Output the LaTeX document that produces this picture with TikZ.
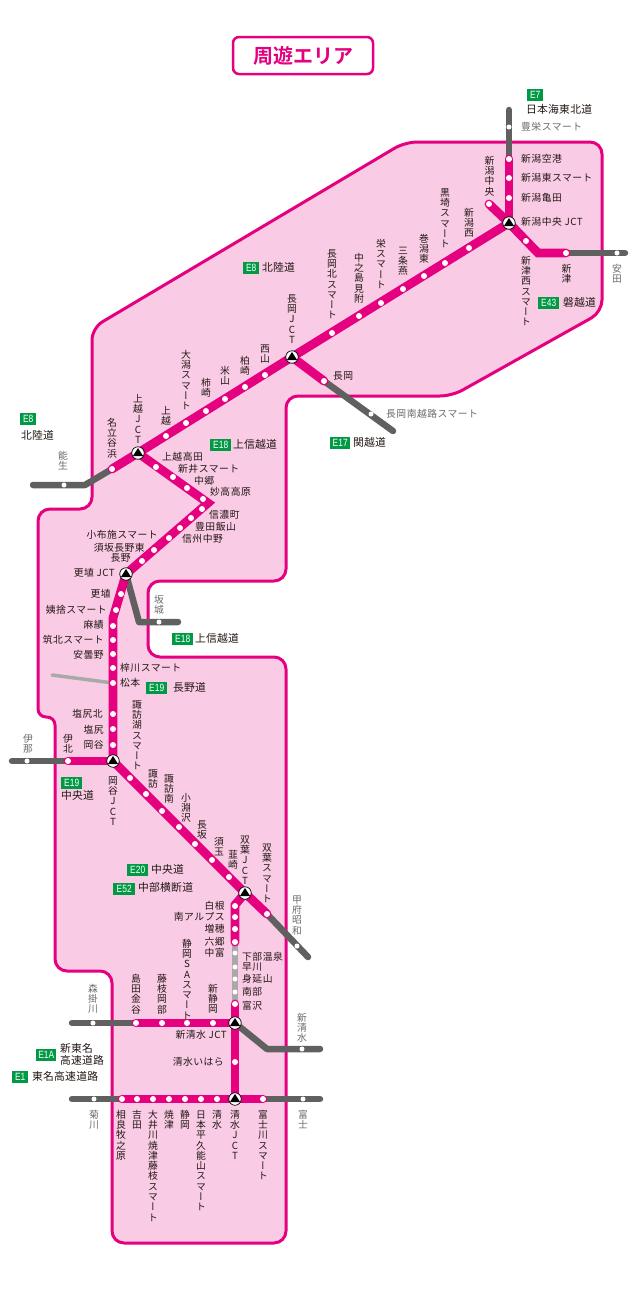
\documentclass[tikz,border=0pt]{standalone}
\usepackage{fontspec}
\setmainfont{Liberation Sans}
\newfontfamily\badgefont[FakeStretch=0.8]{Liberation Sans}
\newfontfamily\jpfont[LetterSpace=5]{Noto Sans CJK JP}
\newfontfamily\jpbig[LetterSpace=2]{Noto Sans CJK JP}
\newfontfamily\jptitle[BoldFont={Noto Sans CJK JP Bold}]{Noto Sans CJK JP}
\newfontfamily\jpvert[RawFeature=+vert]{Noto Sans CJK JP}
\definecolor{mag}{HTML}{E4007F}
\definecolor{pinkfill}{HTML}{F9CBE4}
\definecolor{road}{HTML}{606060}
\definecolor{lgray}{HTML}{A9A9A9}
\definecolor{grn}{HTML}{009944}
\definecolor{ink}{HTML}{231815}
\definecolor{gtext}{HTML}{6A6A6A}
\pgfdeclarelayer{region}
\pgfdeclarelayer{roads}
\pgfsetlayers{region,roads,main}
\makeatletter
\newcommand\vstack[1]{\vbox{\offinterlineskip\fontsize{9.8}{10}\jpvert\@tfor\vch:=#1\do{\hbox to 12pt{\vrule height 8.9pt depth 1.4pt width 0pt\hss\vch\hss}}}}
\makeatother
\newcounter{lab}
\newcommand\LW[4][ink]{\stepcounter{lab}\node[lb,text=#1,anchor=west] (t\thelab) at (#2,#3) {\fontsize{9.8}{10}\jpfont #4};}
\newcommand\LR[4][ink]{\stepcounter{lab}\node[lb,text=#1,anchor=east] (t\thelab) at (#2,#3) {\fontsize{9.8}{10}\jpfont #4};}
\newcommand\LV[4][ink]{\stepcounter{lab}\node[text=#1,inner sep=0pt,anchor=north] (t\thelab) at (#2,#3) {\vstack{#4}};}
\newcommand\RD[3]{\stepcounter{lab}\node[lb,text=ink,anchor=west] (t\thelab) at (#1,#2) {\fontsize{10.8}{12}\jpbig #3};}
\newcommand\BG[4]{\stepcounter{lab}\node[badge,minimum width=#3 pt,anchor=north west] (t\thelab) at (#1,#2) {#4};}
\tikzset{
 lb/.style={inner sep=0pt,text height=8.8pt,text depth=1.2pt},
 badge/.style={fill=grn,text=white,inner sep=0pt,minimum height=12pt,font=\fontsize{10.5}{11}\badgefont},
 st/.style={circle,fill=white,inner sep=0pt,minimum size=6pt},
 stg/.style={circle,fill=white,inner sep=0pt,minimum size=5pt},
 jct/.style={circle,fill=white,draw=black,line width=0.7pt,inner sep=0pt,minimum size=12.5pt,
   path picture={\fill[black] ([yshift=5pt]path picture bounding box.center) -- ([xshift=5.2pt,yshift=-3.2pt]path picture bounding box.center) -- ([xshift=-5.2pt,yshift=-3.2pt]path picture bounding box.center) -- cycle;}},
 mroad/.style={draw=mag,line width=8.8pt,line cap=round,line join=miter},
 groad/.style={draw=road,line width=6.5pt,line cap=round,line join=round},
 lroad/.style={draw=lgray,line width=5.5pt,line cap=butt},
 area/.style={fill=pinkfill,draw=mag,line width=3pt,rounded corners=12pt,line join=round},
}
\begin{document}
\begin{tikzpicture}[x=1pt,y=-1pt]
\useasboundingbox (0,0) rectangle (640,1296);

% title
\node[draw=mag,fill=white,line width=2.5pt,rounded corners=6pt,minimum width=140pt,minimum height=37pt,inner sep=0pt,text=mag] (title) at (303,55.5) {\fontsize{20}{22}\jptitle\bfseries 周遊エリア};

% region
\begin{pgfonlayer}{region}
\path[area] (602,142) -- (602,312) -- (452,396) -- (286,396) -- (286,581) -- (148,581) -- (148,657) -- (286,657) -- (286,1243) -- (112,1243) -- (112,971) -- (55,971) [rounded corners=8pt] -- (55,717) -- (38,717) [rounded corners=12pt] -- (38,509) -- (92,509) -- (92,328) -- (405,142) -- cycle;
\end{pgfonlayer}

% junctions
\foreach \n/\x/\y in {jNiigata/509/223,jNagaoka/292/357,jJoetsu/138/453,jKoshoku/126/574,jOkaya/113/761,jFutaba/245/893,jShinshimizu/235/1023,jShimizu/235/1099}
  \node[jct] (\n) at (\x,\y) {};

% bends and free ends
\foreach \n/\x/\y in {bTsu/538/253,bNou/85/485,bJyo/208/503,bAzu/113/618,bSaka/139/622,bHaku/235/905,bSsz/267/1049,
  eNorth/509/110,eYasu/625/253,eNagaS/393/431,eNou/33/485,eSaka/178/622,eIna/12/761,eKofu/308/957,eMori/72/1023,eSsz/320/1049,eKiku/72/1099,eFuji/320/1099,eMatsu/52/675}
  \coordinate (\n) at (\x,\y);

% stations on magenta
\foreach \n/\x/\y in {
 a1/509/159,a2/509/178,a3/509/198,a4/489/204,a5/526/241,a6/566/253,
 b1/469/248,b2/445/263,b3/424/276,b4/403/289,b5/381/303,b6/359/316,b7/332/333,
 b8/265/375,b9/245/387,b10/225/399,b11/206/411,b12/186/423,b13/166/436,b14/112/469,
 c0/324/381,
 c1/156/467,c2/173/477,c3/187/488,c4/203/499,c5/202/509,c6/191/518,c7/180/528,c8/169/538,c9/154/550,c10/142/561,
 d1/121/594,d2/116/610,d3/113/626,d4/113/640,d5/113/654,d6/113/668,d7/113/683,d8/113/714,d9/113/729,d10/113/745,
 d11/68/761,
 f1/130/778,f2/146/794,f3/162/811,f4/179/827,f5/195/844,f6/212/860,f7/229/877,f8/267/914,
 g1/235/906,g2/235/917,g3/235/929,g4/235/942,g9/235/1004,
 h1/213/1023,h2/187/1023,h3/162/1023,h4/136/1023,h5/235/1062,
 i1/122/1099,i2/137/1099,i3/153/1099,i4/169/1099,i5/185/1099,i6/201/1099,i7/217/1099,i8/263/1099}
  \node[st] (\n) at (\x,\y) {};

% stations on grey
\foreach \n/\x/\y in {
 k1/509/127,k2/617/253,k3/371/414,k4/64/485,k5/159/622,k6/27/761,k7/297/946,
 g5/235/953,g6/235/967,g7/235/979,g8/235/992,k8/93/1023,k9/302/1049,k10/94/1099,k11/303/1099}
  \node[stg] (\n) at (\x,\y) {};

% roads
\begin{pgfonlayer}{roads}
\draw[groad] (eNorth) -- (a1.center);
\draw[groad] (a6.center) -- (eYasu);
\draw[groad] (c0.center) -- (eNagaS);
\draw[groad] (b14.center) -- (bNou) -- (eNou);
\draw[groad] (jKoshoku.center) -- (bSaka) -- (eSaka);
\draw[groad] (d11.center) -- (eIna);
\draw[groad] (f8.center) -- (eKofu);
\draw[groad] (h4.center) -- (eMori);
\draw[groad] (jShinshimizu.center) -- (bSsz) -- (eSsz);
\draw[groad] (i1.center) -- (eKiku);
\draw[groad] (i8.center) -- (eFuji);
\draw[lroad] (g4.center) -- (g9.center);
\draw[draw=lgray,line width=3.5pt,line cap=round] (d7.center) -- (eMatsu);
\draw[mroad] (a1.center) -- (jNiigata.center);
\draw[mroad] (a4.center) -- (jNiigata.center);
\draw[mroad] (jNiigata.center) -- (bTsu) -- (a6.center);
\draw[mroad] (jNiigata.center) -- (jNagaoka.center) -- (jJoetsu.center) -- (b14.center);
\draw[mroad] (jNagaoka.center) -- (c0.center);
\draw[mroad] (jJoetsu.center) -- (bJyo) -- (jKoshoku.center) -- (bAzu) -- (jOkaya.center);
\draw[mroad] (jOkaya.center) -- (d11.center);
\draw[mroad] (jOkaya.center) -- (jFutaba.center) -- (f8.center);
\draw[mroad] (jFutaba.center) -- (bHaku) -- (g4.center);
\draw[mroad] (g9.center) -- (jShinshimizu.center) -- (jShimizu.center);
\draw[mroad] (h4.center) -- (jShinshimizu.center);
\draw[mroad] (i1.center) -- (i8.center);
\end{pgfonlayer}

% Niigata area
\BG{527}{89}{16}{E7}
\RD{526}{110}{日本海東北道}
\LW[gtext]{521}{127}{豊栄スマート}
\LW{521}{159}{新潟空港}
\LW{521}{178}{新潟東スマート}
\LW{521}{198}{新潟亀田}
\LW{521}{222}{新潟中央 JCT}
\LV{489.5}{155}{新潟中央}
\LV{445}{187}{黒埼スマート}
\LV{469}{207}{新潟西}
\LV{424}{233}{巻潟東}
\LV{403}{245}{三条燕}
\LV{381}{238}{栄スマート}
\LV{359}{252}{中之島見附}
\LV{332}{248}{長岡北スマート}
\LV{292}{293}{長岡{J}{C}{T}}
\LV{265}{343}{西山}
\LV{245}{355}{柏崎}
\LV{225}{365}{米山}
\LV{206}{377}{柿崎}
\LV{186}{349}{大潟スマート}
\LV{166}{405}{上越}
\LV{138}{393}{上越{J}{C}{T}}
\LV{112}{417}{名立谷浜}
\LV[gtext]{63}{450}{能生}
\LV{526}{255}{新津西スマート}
\LV{566.5}{263}{新津}
\LV[gtext]{617}{263}{安田}
\BG{538}{297}{21}{E43}
\RD{563}{303}{磐越道}
\BG{243}{262}{16}{E8}
\RD{262}{268}{北陸道}
\BG{20}{413}{16}{E8}
\RD{21}{436}{北陸道}
\BG{210}{439}{21}{E18}
\RD{233}{445}{上信越道}
\LW{333}{376}{長岡}
\LW[gtext]{386}{414}{長岡南越路スマート}
\BG{330}{437}{20}{E17}
\RD{353}{443}{関越道}

% Joshinetsu
\LW{162}{457}{上越高田}
\LW{178}{469}{新井スマート}
\LW{194}{481}{中郷}
\LW{210}{492}{妙高高原}
\LW{209}{515}{信濃町}
\LW{195}{527}{豊田飯山}
\LW{182}{539}{信州中野}
\LR{158}{535}{小布施スマート}
\LR{145}{548}{須坂長野東}
\LR{131}{558}{長野}
\LR{115}{573}{更埴 JCT}
\LR{111}{594}{更埴}
\LR{107}{610}{姨捨スマート}
\LR{104}{625}{麻績}
\LR{104}{640}{筑北スマート}
\LR{104}{655}{安曇野}
\LW{120}{668}{梓川スマート}
\LW{120}{683}{松本}
\LR{103}{714}{塩尻北}
\LR{104}{730}{塩尻}
\LR{104}{745}{岡谷}
\LV[gtext]{159}{594}{坂城}
\BG{172}{633}{21}{E18}
\RD{195}{639}{上信越道}
\BG{146}{682}{21}{E19}
\RD{173}{688}{長野道}
\LV{137}{699}{諏訪湖スマート}
\LV[gtext]{28}{733}{伊那}
\LV{68}{733}{伊北}
\BG{61}{777}{21}{E19}
\RD{61}{796}{中央道}

% Chuo
\LV{113}{775}{岡谷{J}{C}{T}}
\LV{153}{768}{諏訪}
\LV{169}{773}{諏訪南}
\LV{186}{792}{小淵沢}
\LV{202}{819}{長坂}
\LV{219}{836}{須玉}
\LV{233}{849}{韮崎}
\LV{245}{834}{双葉{J}{C}{T}}
\LV{267}{842}{双葉スマート}
\LV[gtext]{297}{894}{甲府昭和}
\BG{127}{864}{21}{E20}
\RD{151}{870}{中央道}
\BG{113}{883}{22}{E52}
\RD{138}{888}{中部横断道}
\LR{225}{906}{白根}
\LR{225}{917}{南アルプス}
\LR{225}{929}{増穂}
\LR{225}{942}{六郷}
\LR{225}{953}{中富}
\LW{242}{957}{下部温泉}
\LW{242}{967}{早川}
\LW{242}{979}{身延山}
\LW{242}{992}{南部}
\LW{242}{1006}{富沢}

% Shin-Tomei / Tomei
\LV{187}{938}{静岡{S}{A}スマート}
\LV{213}{983}{新静岡}
\LV{162}{973}{藤枝岡部}
\LV{136}{973}{島田金谷}
\LR{227}{1035}{新清水 JCT}
\LR{224}{1062}{清水いはら}
\LV[gtext]{93}{983}{森掛川}
\LV[gtext]{302}{1012}{新清水}
\BG{36}{1049}{20}{E1A}
\RD{60}{1049}{新東名}
\RD{60}{1061}{高速道路}
\BG{12}{1071}{16}{E1}
\RD{32}{1077}{東名高速道路}
\LV[gtext]{94}{1109}{菊川}
\LV[gtext]{303}{1109}{富士}
\LV{121}{1109}{相良牧之原}
\LV{137}{1109}{吉田}
\LV{153}{1109}{大井川焼津藤枝スマート}
\LV{169}{1109}{焼津}
\LV{185}{1109}{静岡}
\LV{201}{1109}{日本平久能山スマート}
\LV{217}{1109}{清水}
\LV{235}{1109}{清水{J}{C}{T}}
\LV{263}{1109}{富士川スマート}
\end{tikzpicture}
\end{document}
